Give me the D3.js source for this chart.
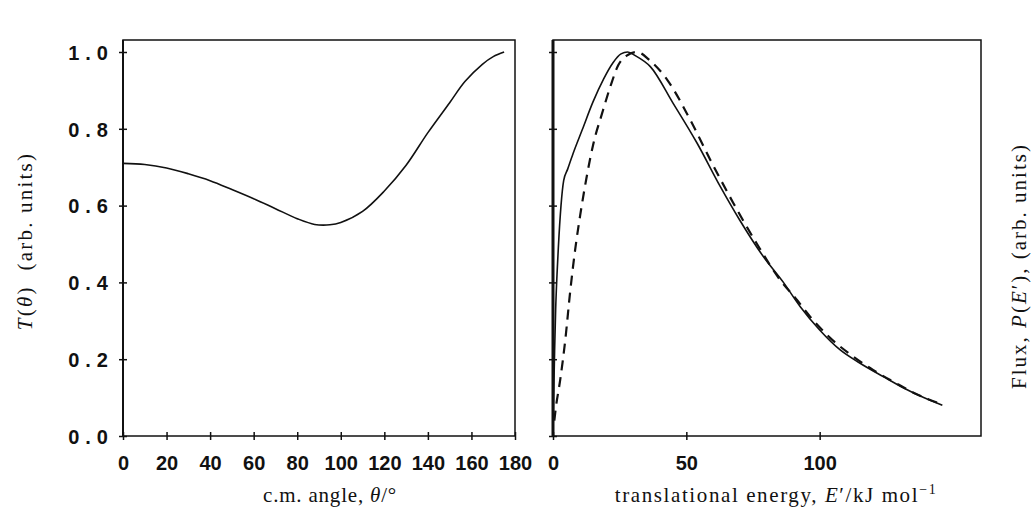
<!DOCTYPE html>
<html>
<head>
<meta charset="utf-8">
<script src="https://cdn.jsdelivr.net/npm/d3@7/dist/d3.min.js"></script>
<style>
  html, body { margin: 0; padding: 0; background: #fff; }
  svg { display: block; }
  .tick text { font-family: "Liberation Sans", Arial, sans-serif; font-weight: bold; font-size: 20px; fill: #111; }
  .title { font-family: "Liberation Serif", "Times New Roman", serif; font-size: 21px; fill: #111; }
</style>
</head>
<body>
<svg id="chart" width="1033" height="508"></svg>
<script>
// Angular distribution T(theta)
const thetaDeg = [0, 10, 20, 30, 40, 50, 60, 70, 80, 88, 95, 100, 110, 120, 130, 140, 150, 157, 165, 170, 175];
const thetaT   = [0.710, 0.707, 0.698, 0.683, 0.665, 0.642, 0.618, 0.592, 0.566, 0.551, 0.550, 0.556, 0.585, 0.638, 0.705, 0.790, 0.868, 0.923, 0.968, 0.988, 1.000];

// Translational energy distributions P(E')
const energySolid = [0, 0.3, 0.6, 1, 1.5, 2, 3, 4, 5.5, 7.5, 11, 15, 19, 22.5, 25.5, 28, 31, 36.5, 45, 54, 62.7, 70, 79, 86.4, 92.8, 100, 107.7, 115, 124, 131.5, 139, 146];
const fluxSolid   = [0, 0.12, 0.22, 0.33, 0.42, 0.49, 0.60, 0.665, 0.695, 0.735, 0.798, 0.87, 0.93, 0.972, 0.995, 1.0, 0.99, 0.962, 0.867, 0.763, 0.65, 0.5625, 0.466, 0.40, 0.336, 0.276, 0.224, 0.19, 0.154, 0.125, 0.10, 0.08];
const energyDashed = [0.5, 1, 2.7, 4.6, 6.5, 8.4, 10.2, 12.5, 15.1, 18.4, 21.5, 24.5, 27.5, 31.5, 36, 42.9, 51.5, 59, 67.6, 76.5, 85.2, 91.5, 96.5, 104, 112, 120, 128, 136, 146];
const fluxDashed   = [0.04, 0.07, 0.146, 0.25, 0.38, 0.49, 0.575, 0.67, 0.76, 0.84, 0.91, 0.966, 0.99, 1.0, 0.98, 0.927, 0.823, 0.719, 0.607, 0.50, 0.406, 0.354, 0.31, 0.255, 0.21, 0.172, 0.14, 0.11, 0.082];

// Tick values
const thetaTicks = [0, 20, 40, 60, 80, 100, 120, 140, 160, 180];
const energyTicks = [0, 50, 100];
const yTicks = [0, 0.2, 0.4, 0.6, 0.8, 1.0];

const svg = d3.select("#chart");
const plotTop = 40, plotBottom = 436;
const leftPanel = { x0: 123, x1: 515 };
const rightPanel = { x0: 553, x1: 981 };

const y = d3.scaleLinear().domain([0, 1]).range([plotBottom, 52]);
const xTheta = d3.scaleLinear().domain([0, 180]).range([leftPanel.x0, leftPanel.x1]);
const xEnergy = d3.scaleLinear().domain([0, 160.5]).range([rightPanel.x0, rightPanel.x1]);

function frame(p, leftWidth) {
  svg.append("rect")
    .attr("x", p.x0).attr("y", plotTop)
    .attr("width", p.x1 - p.x0).attr("height", plotBottom - plotTop)
    .attr("fill", "none").attr("stroke", "#111").attr("stroke-width", 1.5);
  svg.append("line")
    .attr("x1", p.x0).attr("x2", p.x0).attr("y1", plotTop).attr("y2", plotBottom)
    .attr("stroke", "#111").attr("stroke-width", leftWidth);
}
frame(leftPanel, 2);
frame(rightPanel, 3);

function crossTicks(g, horizontal) {
  g.select(".domain").remove();
  g.selectAll(".tick line")
    .attr("stroke", "#111").attr("stroke-width", 1.5)
    .attr(horizontal ? "y1" : "x1", -4)
    .attr(horizontal ? "y2" : "x2", 4);
}

// Bottom axes
const gxl = svg.append("g").attr("transform", `translate(0,${plotBottom})`)
  .call(d3.axisBottom(xTheta).tickValues(thetaTicks).tickFormat(d3.format("d")));
crossTicks(gxl, true);
gxl.selectAll(".tick text").attr("y", 34).attr("dy", 0);

const gxr = svg.append("g").attr("transform", `translate(0,${plotBottom})`)
  .call(d3.axisBottom(xEnergy).tickValues(energyTicks).tickFormat(d3.format("d")));
crossTicks(gxr, true);
gxr.selectAll(".tick text").attr("y", 34).attr("dy", 0);

// Left axes
const gyl = svg.append("g").attr("transform", `translate(${leftPanel.x0},0)`)
  .call(d3.axisLeft(y).tickValues(yTicks).tickFormat(d3.format(".1f")));
crossTicks(gyl, false);
gyl.selectAll(".tick text").attr("x", -9).attr("dy", "0.36em").style("letter-spacing", "6px");

const gyr = svg.append("g").attr("transform", `translate(${rightPanel.x0},0)`)
  .call(d3.axisLeft(y).tickValues(yTicks).tickFormat(""));
crossTicks(gyr, false);

// Curves
const lineTheta = d3.line().x(d => xTheta(d[0])).y(d => y(d[1])).curve(d3.curveCatmullRom.alpha(0.5));
const lineEnergy = d3.line().x(d => xEnergy(d[0])).y(d => y(d[1])).curve(d3.curveMonotoneX);

svg.append("path")
  .datum(d3.zip(thetaDeg, thetaT))
  .attr("d", lineTheta)
  .attr("fill", "none").attr("stroke", "#111").attr("stroke-width", 1.6);

svg.append("path")
  .datum(d3.zip(energySolid, fluxSolid))
  .attr("d", lineEnergy)
  .attr("fill", "none").attr("stroke", "#111").attr("stroke-width", 1.6);

svg.append("path")
  .datum(d3.zip(energyDashed, fluxDashed))
  .attr("d", lineEnergy)
  .attr("fill", "none").attr("stroke", "#111").attr("stroke-width", 2.2)
  .attr("stroke-dasharray", "10,7");

// Axis titles
const xt1 = svg.append("text").attr("class", "title")
  .attr("x", 330).attr("y", 502).attr("text-anchor", "middle")
  .style("letter-spacing", "0.8px");
xt1.append("tspan").text("c.m. angle, ");
xt1.append("tspan").attr("font-style", "italic").text("θ");
xt1.append("tspan").text("/°");

const xt2 = svg.append("text").attr("class", "title")
  .attr("x", 776).attr("y", 502).attr("text-anchor", "middle")
  .style("letter-spacing", "1.6px");
xt2.append("tspan").text("translational energy, ");
xt2.append("tspan").attr("font-style", "italic").text("E");
xt2.append("tspan").text("′/kJ mol");
xt2.append("tspan").attr("font-size", "14px").attr("dy", "-8").text("−1");

const yt1 = svg.append("text").attr("class", "title")
  .attr("transform", "translate(32,241) rotate(-90)").attr("text-anchor", "middle")
  .style("letter-spacing", "2.2px");
yt1.append("tspan").attr("font-style", "italic").text("T");
yt1.append("tspan").text("(");
yt1.append("tspan").attr("font-style", "italic").text("θ");
yt1.append("tspan").attr("xml:space", "preserve").text(")  (arb. units)");

const yt2 = svg.append("text").attr("class", "title")
  .attr("transform", "translate(1026,266) rotate(-90)").attr("text-anchor", "middle")
  .style("letter-spacing", "2px");
yt2.append("tspan").text("Flux, ");
yt2.append("tspan").attr("font-style", "italic").text("P");
yt2.append("tspan").text("(");
yt2.append("tspan").attr("font-style", "italic").text("E");
yt2.append("tspan").text("′), (arb. units)");
</script>
</body>
</html>
